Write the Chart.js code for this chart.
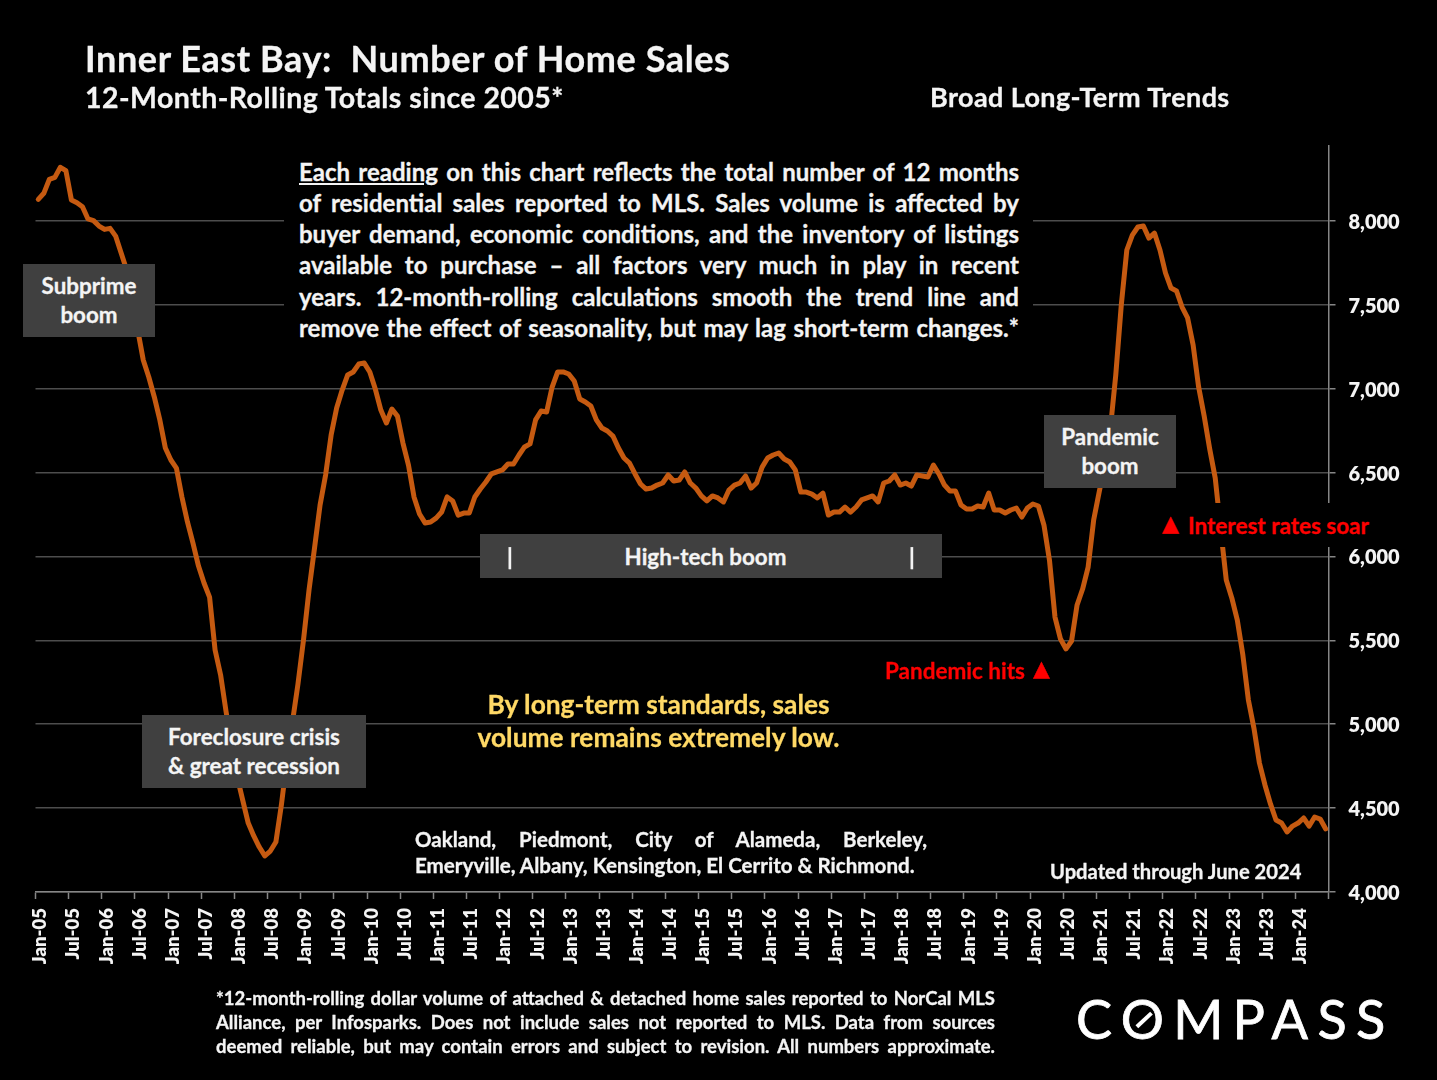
<!DOCTYPE html>
<html>
<head>
<meta charset="utf-8">
<script src="https://cdn.jsdelivr.net/npm/chart.js@4"></script>
<style>
html, body { margin: 0; padding: 0; background: #000; }
#page { position: relative; width: 1437px; height: 1080px; overflow: hidden; background: #000;
  font-family: Lato, sans-serif; font-weight: 700; color: #f4f4f4; -webkit-text-stroke: 0.3px; }
canvas { position: absolute; left: 0; top: 0; }
.t { position: absolute; white-space: nowrap; }
.j { position: absolute; white-space: normal; text-align: justify; text-align-last: justify; }
.box { position: absolute; background: #404040; text-align: center; font-size: 22.4px; line-height: 29px; }
.mask { position: absolute; background: #000; }
.red { color: #f00; font-size: 22.5px; }
.tri { color: #f00; font-size: 22px; line-height: 30px; font-family: "DejaVu Sans", sans-serif; }
.foot { font-size: 18.5px; }
</style>
</head>
<body>
<div id="page">
  <canvas id="myChart" width="1437" height="1080"></canvas>

  <div class="t" style="left:85px;top:35.5px;font-size:36px;letter-spacing:0.6px">Inner East Bay:&nbsp; Number of Home Sales</div>
  <div class="t" style="left:85px;top:79.5px;font-size:28.5px;letter-spacing:0.45px">12-Month-Rolling Totals since 2005*</div>
  <div class="t" style="left:930px;top:80px;font-size:27px;letter-spacing:0.4px">Broad Long-Term Trends</div>

  <div class="mask" style="left:284px;top:150px;width:749px;height:195px"></div>
  <div id="para"></div>

  <div class="mask" style="left:1155px;top:503px;width:220px;height:44px"></div>
  <div class="box" style="left:23px;top:264px;width:132px;height:73px;padding-top:7px;box-sizing:border-box">Subprime<br>boom</div>
  <div class="box" style="left:142px;top:715px;width:224px;height:73px;padding-top:7px;box-sizing:border-box">Foreclosure crisis<br>&amp; great recession</div>
  <div class="box" style="left:1044px;top:415px;width:132px;height:73px;padding-top:7px;box-sizing:border-box">Pandemic<br>boom</div>
  <div class="box" style="left:480px;top:534px;width:462px;height:44px;line-height:46px;padding-right:11px;box-sizing:border-box">High-tech boom
    <span class="t" style="left:27px;top:0">|</span><span class="t" style="left:429px;top:0">|</span></div>

  <div class="t tri" style="left:1162px;top:509px">▲</div>
  <div class="t red" style="left:1188px;top:511.5px">Interest rates soar</div>
  <div class="t red" style="left:885px;top:656.5px">Pandemic hits</div>
  <div class="t tri" style="left:1033px;top:654px">▲</div>

  <div class="t" style="left:458.5px;top:687.5px;width:400px;text-align:center;font-size:26.3px;line-height:33px;color:#ffd966">By long-term standards, sales<br>volume remains extremely low.</div>

  <div class="j" style="left:415px;top:827px;width:512px;font-size:20.5px">Oakland, Piedmont, City of Alameda, Berkeley,</div>
  <div class="t" style="left:415px;top:853px;font-size:20.6px">Emeryville, Albany, Kensington, El Cerrito &amp; Richmond.</div>
  <div class="t" style="left:1050px;top:859px;font-size:20.2px">Updated through June 2024</div>

  <div class="j foot" style="left:216px;top:987px;width:779px">*12-month-rolling dollar volume of attached &amp; detached home sales reported to NorCal MLS</div>
  <div class="j foot" style="left:216px;top:1011px;width:779px">Alliance, per Infosparks. Does not include sales not reported to MLS. Data from sources</div>
  <div class="j foot" style="left:216px;top:1035px;width:779px">deemed reliable, but may contain errors and subject to revision. All numbers approximate.</div>

  <div class="t" style="left:1076px;top:986px;font-size:54px;font-weight:400;letter-spacing:9.3px;color:#fff;-webkit-text-stroke:0.8px">C<span style="position:relative">O<span style="position:absolute;left:13px;top:32px;width:20px;height:3.5px;background:#fff;transform:rotate(-43deg)"></span></span>MPASS</div>
</div>

<script>
const paraLines = [
  '<u>Each reading</u> on this chart reflects the total number of 12 months',
  'of residential sales reported to MLS. Sales volume is affected by',
  'buyer demand, economic conditions, and the inventory of listings',
  'available to purchase – all factors very much in play in recent',
  'years. 12-month-rolling calculations smooth the trend line and',
  'remove the effect of seasonality, but may lag short-term changes.*'
]

const monthNames = ['Jan', 'Jul']
const firstYear = 2005
const yTicks = [4000, 4500, 5000, 5500, 6000, 6500, 7000, 7500, 8000]

// one reading per month, Jan-05 through Jun-24
const sales2005 = [8129,8165,8248,8260,8320,8300,8125,8109,8085,8012,8002,7970]
const sales2006 = [7950,7956,7910,7809,7708,7541,7350,7171,7070,6951,6814,6647]
const sales2007 = [6575,6527,6355,6206,6080,5943,5842,5758,5443,5294,5073,4876]
const sales2008 = [4686,4548,4411,4334,4268,4215,4244,4298,4519,4787,5013,5240]
const sales2009 = [5502,5800,6051,6307,6486,6724,6885,6992,7082,7100,7147,7153]
const sales2010 = [7100,6998,6873,6796,6879,6837,6676,6545,6355,6253,6200,6206]
const sales2011 = [6229,6265,6355,6331,6247,6259,6259,6355,6402,6444,6492,6504]
const sales2012 = [6516,6551,6551,6605,6653,6671,6814,6867,6861,7010,7100,7100]
const sales2013 = [7088,7046,6939,6921,6897,6814,6766,6748,6718,6647,6587,6557]
const sales2014 = [6492,6432,6402,6408,6426,6438,6486,6450,6456,6504,6438,6408]
const sales2015 = [6361,6331,6361,6349,6325,6396,6426,6438,6480,6408,6438,6533]
const sales2016 = [6587,6605,6617,6581,6563,6516,6384,6384,6372,6349,6378,6247]
const sales2017 = [6265,6265,6295,6265,6295,6337,6349,6361,6325,6438,6450,6486]
const sales2018 = [6426,6438,6420,6486,6480,6474,6545,6492,6426,6390,6390,6307]
const sales2019 = [6283,6283,6301,6295,6378,6277,6277,6259,6277,6289,6235,6289]
const sales2020 = [6313,6301,6188,5979,5639,5508,5449,5496,5711,5806,5937,6217]
const sales2021 = [6384,6545,6754,7082,7499,7827,7916,7964,7970,7898,7928,7827]
const sales2022 = [7690,7600,7583,7487,7422,7261,7010,6837,6641,6468,6158,5860]
const sales2023 = [5753,5621,5413,5145,4978,4769,4638,4525,4429,4411,4358,4393]
const sales2024 = [4411,4441,4393,4447,4435,4376]

const allSales = [].concat(sales2005, sales2006, sales2007, sales2008, sales2009, sales2010,
  sales2011, sales2012, sales2013, sales2014, sales2015, sales2016, sales2017, sales2018,
  sales2019, sales2020, sales2021, sales2022, sales2023, sales2024)

// every sixth month gets a label
const xLabels = allSales.map(function (v, i) {
  const yr = firstYear + Math.floor(i / 12)
  const m = i % 12
  if (m === 0 || m === 6) return monthNames[m / 6] + '-' + String(yr).slice(2)
  return ''
})

const axisGray = '#868686'
const gridGray = '#4d4d4d'

var para = document.getElementById('para')
paraLines.forEach(function (line, i) {
  var d = document.createElement('div')
  d.className = 'j'
  d.style.cssText = 'left:299px;width:720px;font-size:24px;top:' + (156.5 + i * 31.3) + 'px'
  d.innerHTML = line
  para.appendChild(d)
})

Promise.all([document.fonts.load('700 20px Lato'), document.fonts.load('900 20px Lato')]).then(drawChart, drawChart)

function drawChart() {
  var ctx = document.getElementById('myChart').getContext('2d')
  new Chart(ctx, {
    type: 'line',
    data: {
      labels: xLabels,
      datasets: [{
        data: allSales,
        borderColor: '#c55a11',
        borderWidth: 5,
        borderJoinStyle: 'round',
        borderCapStyle: 'round',
        pointRadius: 0,
        tension: 0,
        fill: false
      }]
    },
    options: {
      responsive: false,
      animation: false,
      layout: { padding: { left: 35.5, top: 146, right: 0, bottom: 0 } },
      plugins: { legend: { display: false }, tooltip: { enabled: false } },
      scales: {
        x: {
          type: 'category',
          offset: true,
          afterFit: function (s) { s.height = 188 },
          border: { color: axisGray, width: 1.5 },
          grid: {
            offset: true,
            drawOnChartArea: false,
            tickLength: 7,
            tickWidth: 1.5,
            tickColor: function (c) {
              return (c.index === undefined || c.index % 6 === 0) ? axisGray : 'rgba(0,0,0,0)'
            }
          },
          ticks: {
            autoSkip: false,
            minRotation: 90,
            maxRotation: 90,
            padding: 9,
            labelOffset: 2,
            color: '#f4f4f4',
            font: { family: 'Lato', weight: '800', size: 18.5 }
          }
        },
        y: {
          position: 'right',
          min: 4000,
          max: 8447,
          afterFit: function (s) { s.width = 108.5 },
          afterBuildTicks: function (s) { s.ticks = yTicks.map(function (v) { return { value: v } }) },
          border: { color: axisGray, width: 1.5 },
          grid: { color: gridGray, lineWidth: 1.5, tickLength: 7, tickColor: axisGray },
          ticks: {
            padding: 13,
            labelOffset: 1.5,
            color: '#f4f4f4',
            font: { family: 'Lato', weight: '800', size: 20 },
            callback: function (v) { return v.toLocaleString('en-US') }
          }
        }
      }
    }
  })
}
</script>
</body>
</html>
